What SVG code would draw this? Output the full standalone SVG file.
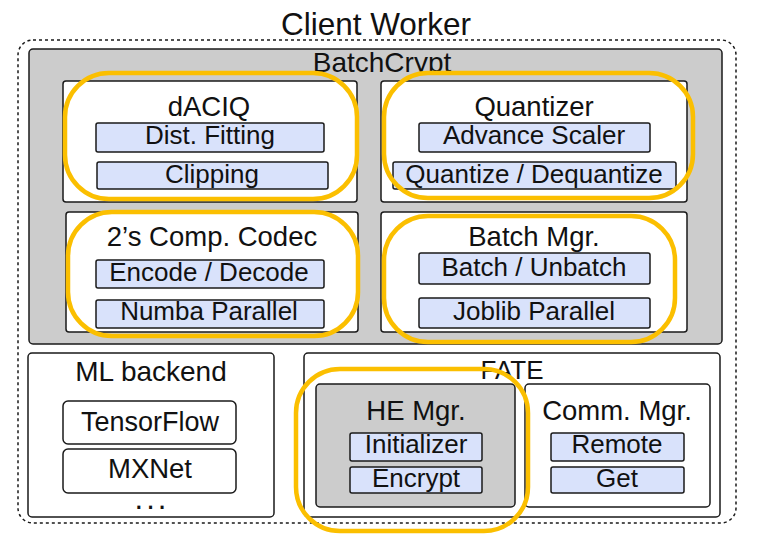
<svg xmlns="http://www.w3.org/2000/svg" width="771" height="544" viewBox="0 0 771 544">
<style>
text{font-family:"Liberation Sans",Arial,Helvetica,sans-serif;fill:#111;text-anchor:middle}
.t{font-size:27.5px}
.l{font-size:26px}
.box{fill:#fff;stroke:#1a1a1a;stroke-width:1.5}
.gray{fill:#cccccc;stroke:#1a1a1a;stroke-width:1.5}
.blue{fill:#d9e2fb;stroke:#1a1a1a;stroke-width:1.5}
.hl{fill:none;stroke:#fbbf00;stroke-width:4.5}
</style>
<defs>
<clipPath id="bcClip"><rect x="29" y="40" width="693" height="33"/></clipPath>
</defs>
<rect width="771" height="544" fill="#fff"/>
<g id="client-worker">
<rect x="18" y="40" width="718" height="483" rx="15" fill="none" stroke="#1a1a1a" stroke-width="1.5" stroke-dasharray="3 3"/>
<text x="376" y="35" style="font-size:31.5px">Client Worker</text>
</g>
<g id="batchcrypt">
<rect class="gray" x="29" y="49" width="693" height="295" rx="4"/>
<text class="t" style="font-size:28px" x="382" y="72" clip-path="url(#bcClip)">BatchCrypt</text>
</g>
<g id="daciq">
<rect class="box" x="63" y="81" width="294" height="121" rx="3"/>
<text class="t" x="209" y="116">dACIQ</text>
<rect class="blue" x="96" y="123" width="228" height="29" rx="2"/>
<text class="l" x="210" y="144">Dist. Fitting</text>
<rect class="blue" x="97" y="162" width="231" height="27" rx="2"/>
<text class="l" x="212" y="183">Clipping</text>
</g>
<g id="quantizer">
<rect class="box" x="381" y="81" width="306" height="121" rx="3"/>
<text class="t" x="534" y="116">Quantizer</text>
<rect class="blue" x="419" y="123" width="231" height="29" rx="2"/>
<text class="l" x="534" y="144">Advance Scaler</text>
<rect class="blue" x="393" y="162" width="283" height="27" rx="2"/>
<text class="l" x="534" y="183">Quantize / Dequantize</text>
</g>
<g id="codec">
<rect class="box" x="66" y="212" width="292" height="120" rx="3"/>
<text class="t" x="212" y="246">2’s Comp. Codec</text>
<rect class="blue" x="96" y="260" width="228" height="28" rx="2"/>
<text class="l" x="209" y="281">Encode / Decode</text>
<rect class="blue" x="96" y="300" width="228" height="28" rx="2"/>
<text class="l" x="209" y="320">Numba Parallel</text>
</g>
<g id="batch-mgr">
<rect class="box" x="381" y="212" width="306" height="120" rx="3"/>
<text class="t" x="534" y="246">Batch Mgr.</text>
<rect class="blue" x="419" y="253" width="231" height="31" rx="2"/>
<text class="l" x="534" y="276">Batch / Unbatch</text>
<rect class="blue" x="419" y="298" width="231" height="30" rx="2"/>
<text class="l" x="534" y="320">Joblib Parallel</text>
</g>
<g id="ml-backend">
<rect class="box" x="28" y="353" width="246" height="164" rx="4"/>
<text class="t" style="font-size:28px" x="151" y="381">ML backend</text>
<rect class="box" x="63" y="401" width="173" height="43" rx="5"/>
<text class="t" style="font-size:27px" x="150" y="431">TensorFlow</text>
<rect class="box" x="63" y="449" width="173" height="44" rx="5"/>
<text class="t" style="font-size:27.5px" x="150" y="478">MXNet</text>
<text class="t" style="font-size:31px" x="152" y="509" letter-spacing="3">...</text>
</g>
<g id="fate">
<rect class="box" x="304" y="353" width="416" height="164" rx="4"/>
<text class="t" style="font-size:26px" x="512" y="379">FATE</text>
</g>
<g id="he-mgr">
<rect class="gray" x="316" y="384" width="199" height="123" rx="4"/>
<text class="t" x="416" y="420">HE Mgr.</text>
<rect class="blue" x="350" y="433" width="132" height="28" rx="2"/>
<text class="l" x="416" y="453">Initializer</text>
<rect class="blue" x="350" y="467" width="132" height="26" rx="2"/>
<text class="l" x="416" y="487">Encrypt</text>
</g>
<g id="comm-mgr">
<rect class="box" x="525" y="384" width="185" height="123" rx="4"/>
<text class="t" x="617" y="420">Comm. Mgr.</text>
<rect class="blue" x="551" y="433" width="133" height="28" rx="2"/>
<text class="l" x="617" y="453">Remote</text>
<rect class="blue" x="551" y="467" width="133" height="26" rx="2"/>
<text class="l" x="617" y="487">Get</text>
</g>
<g id="connectors"></g>
<g id="highlights">
<rect class="hl" x="65" y="73" width="292" height="126" rx="44"/>
<rect class="hl" x="384" y="73" width="309" height="125" rx="44"/>
<rect class="hl" x="68" y="212" width="290" height="124" rx="44"/>
<rect class="hl" x="384" y="216" width="291" height="126" rx="44"/>
<rect class="hl" x="296" y="369" width="232" height="162" rx="44"/>
</g>
</svg>
